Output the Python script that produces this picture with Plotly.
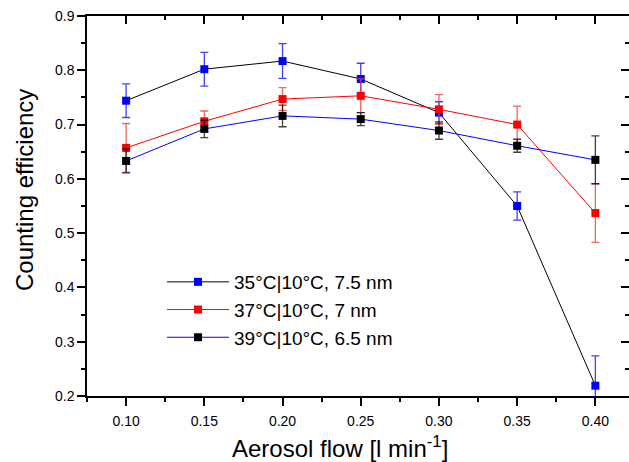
import plotly.graph_objects as go

flow = [0.10, 0.15, 0.20, 0.25, 0.30, 0.35, 0.40]

names = ["35°C|10°C, 7.5 nm", "37°C|10°C, 7 nm", "39°C|10°C, 6.5 nm"]

eff_35 = [0.744, 0.802, 0.817, 0.784, 0.722, 0.550, 0.219]
err_35 = [0.031, 0.031, 0.032, 0.029, 0.020, 0.026, 0.055]

eff_37 = [0.657, 0.706, 0.747, 0.753, 0.728, 0.700, 0.537]
err_37 = [0.045, 0.019, 0.021, 0.031, 0.027, 0.034, 0.054]

eff_39 = [0.633, 0.692, 0.716, 0.710, 0.689, 0.661, 0.635]
err_39 = [0.022, 0.016, 0.020, 0.012, 0.016, 0.012, 0.044]

FONT = "Liberation Sans, Arial, sans-serif"

fig = go.Figure()

series = [
    (names[0], eff_35, err_35, "#000000", "#0000ff", "rgba(0,0,255,0.75)"),
    (names[1], eff_37, err_37, "#ff0000", "#ff0000", "rgba(240,60,60,0.8)"),
    (names[2], eff_39, err_39, "#0000ff", "#000000", "rgba(0,0,0,0.75)"),
]
for i, (nm, y, e, lc, mc, ec) in enumerate(series):
    fig.add_trace(go.Scatter(
        x=flow, y=y, name=nm, mode="lines+markers",
        line=dict(color=lc, width=1),
        marker=dict(symbol="square", size=8, color=mc),
        error_y=dict(type="data", array=e, visible=True, color=ec,
                     thickness=1.3, width=4),
    ))

# invisible trace to hold the mirrored (top/right) axes
fig.add_trace(go.Scatter(x=[0.2], y=[0.5], xaxis="x2", yaxis="y2",
                         mode="markers", marker=dict(opacity=0),
                         showlegend=False, hoverinfo="skip"))

xr = [0.075, 0.4215]
yr = [0.2, 0.9]

fig.update_layout(
    width=629, height=462,
    margin=dict(l=87, r=0, t=16, b=66),
    paper_bgcolor="white", plot_bgcolor="white",
    font=dict(family=FONT, color="black", size=14),
    showlegend=True,
    legend=dict(x=(162 - 87) / 542, y=(396 - 263) / 380, xanchor="left", yanchor="top",
                bgcolor="rgba(0,0,0,0)", font=dict(size=19, family=FONT),
                itemwidth=62, traceorder="normal"),
    xaxis=dict(range=xr, tick0=0.1, dtick=0.05, tickformat=".2f",
               showgrid=False, zeroline=False, showline=True,
               linecolor="black", linewidth=1.5,
               ticks="outside", ticklen=8, tickwidth=1.5, tickcolor="black",
               ticklabelstandoff=3,
               tickfont=dict(size=14, family=FONT),
               minor=dict(ticks="outside", ticklen=4, tickwidth=1.5,
                          tickcolor="black", dtick=0.025, tick0=0.075,
                          showgrid=False)),
    yaxis=dict(range=yr, tick0=0.2, dtick=0.1, tickformat=".1f",
               showgrid=False, zeroline=False, showline=True,
               linecolor="black", linewidth=1.5,
               ticks="outside", ticklen=8, tickwidth=1.5, tickcolor="black",
               tickfont=dict(size=14, family=FONT),
               minor=dict(ticks="outside", ticklen=4, tickwidth=1.5,
                          tickcolor="black", dtick=0.05, tick0=0.2,
                          showgrid=False)),
    xaxis2=dict(range=xr, overlaying="x", side="top", anchor="y2",
                tick0=0.1, dtick=0.05, showticklabels=False,
                showgrid=False, zeroline=False, showline=True,
                linecolor="black", linewidth=1.5,
                ticks="inside", ticklen=8, tickwidth=1.5, tickcolor="black",
                minor=dict(ticks="inside", ticklen=4, tickwidth=1.5,
                           tickcolor="black", dtick=0.025, tick0=0.075,
                           showgrid=False)),
    yaxis2=dict(range=yr, overlaying="y", side="right", anchor="x2",
                tick0=0.2, dtick=0.1, showticklabels=False,
                showgrid=False, zeroline=False, showline=True,
                linecolor="black", linewidth=1.5,
                ticks="inside", ticklen=8, tickwidth=1.5, tickcolor="black",
                minor=dict(ticks="inside", ticklen=4, tickwidth=1.5,
                           tickcolor="black", dtick=0.05, tick0=0.2,
                           showgrid=False)),
    annotations=[
        dict(text="Aerosol flow [l min<sup>-1</sup>]", xref="paper", yref="paper",
             x=(340 - 87) / 542, y=-(447 - 396) / 380, xanchor="center",
             yanchor="middle", showarrow=False,
             font=dict(size=24, family=FONT)),
        dict(text="Counting efficiency", xref="paper", yref="paper",
             x=-(87 - 24) / 542, y=(396 - 190) / 380, xanchor="center",
             yanchor="middle", textangle=-90, showarrow=False,
             font=dict(size=24, family=FONT)),
    ],
)

fig.write_html("out.html")
